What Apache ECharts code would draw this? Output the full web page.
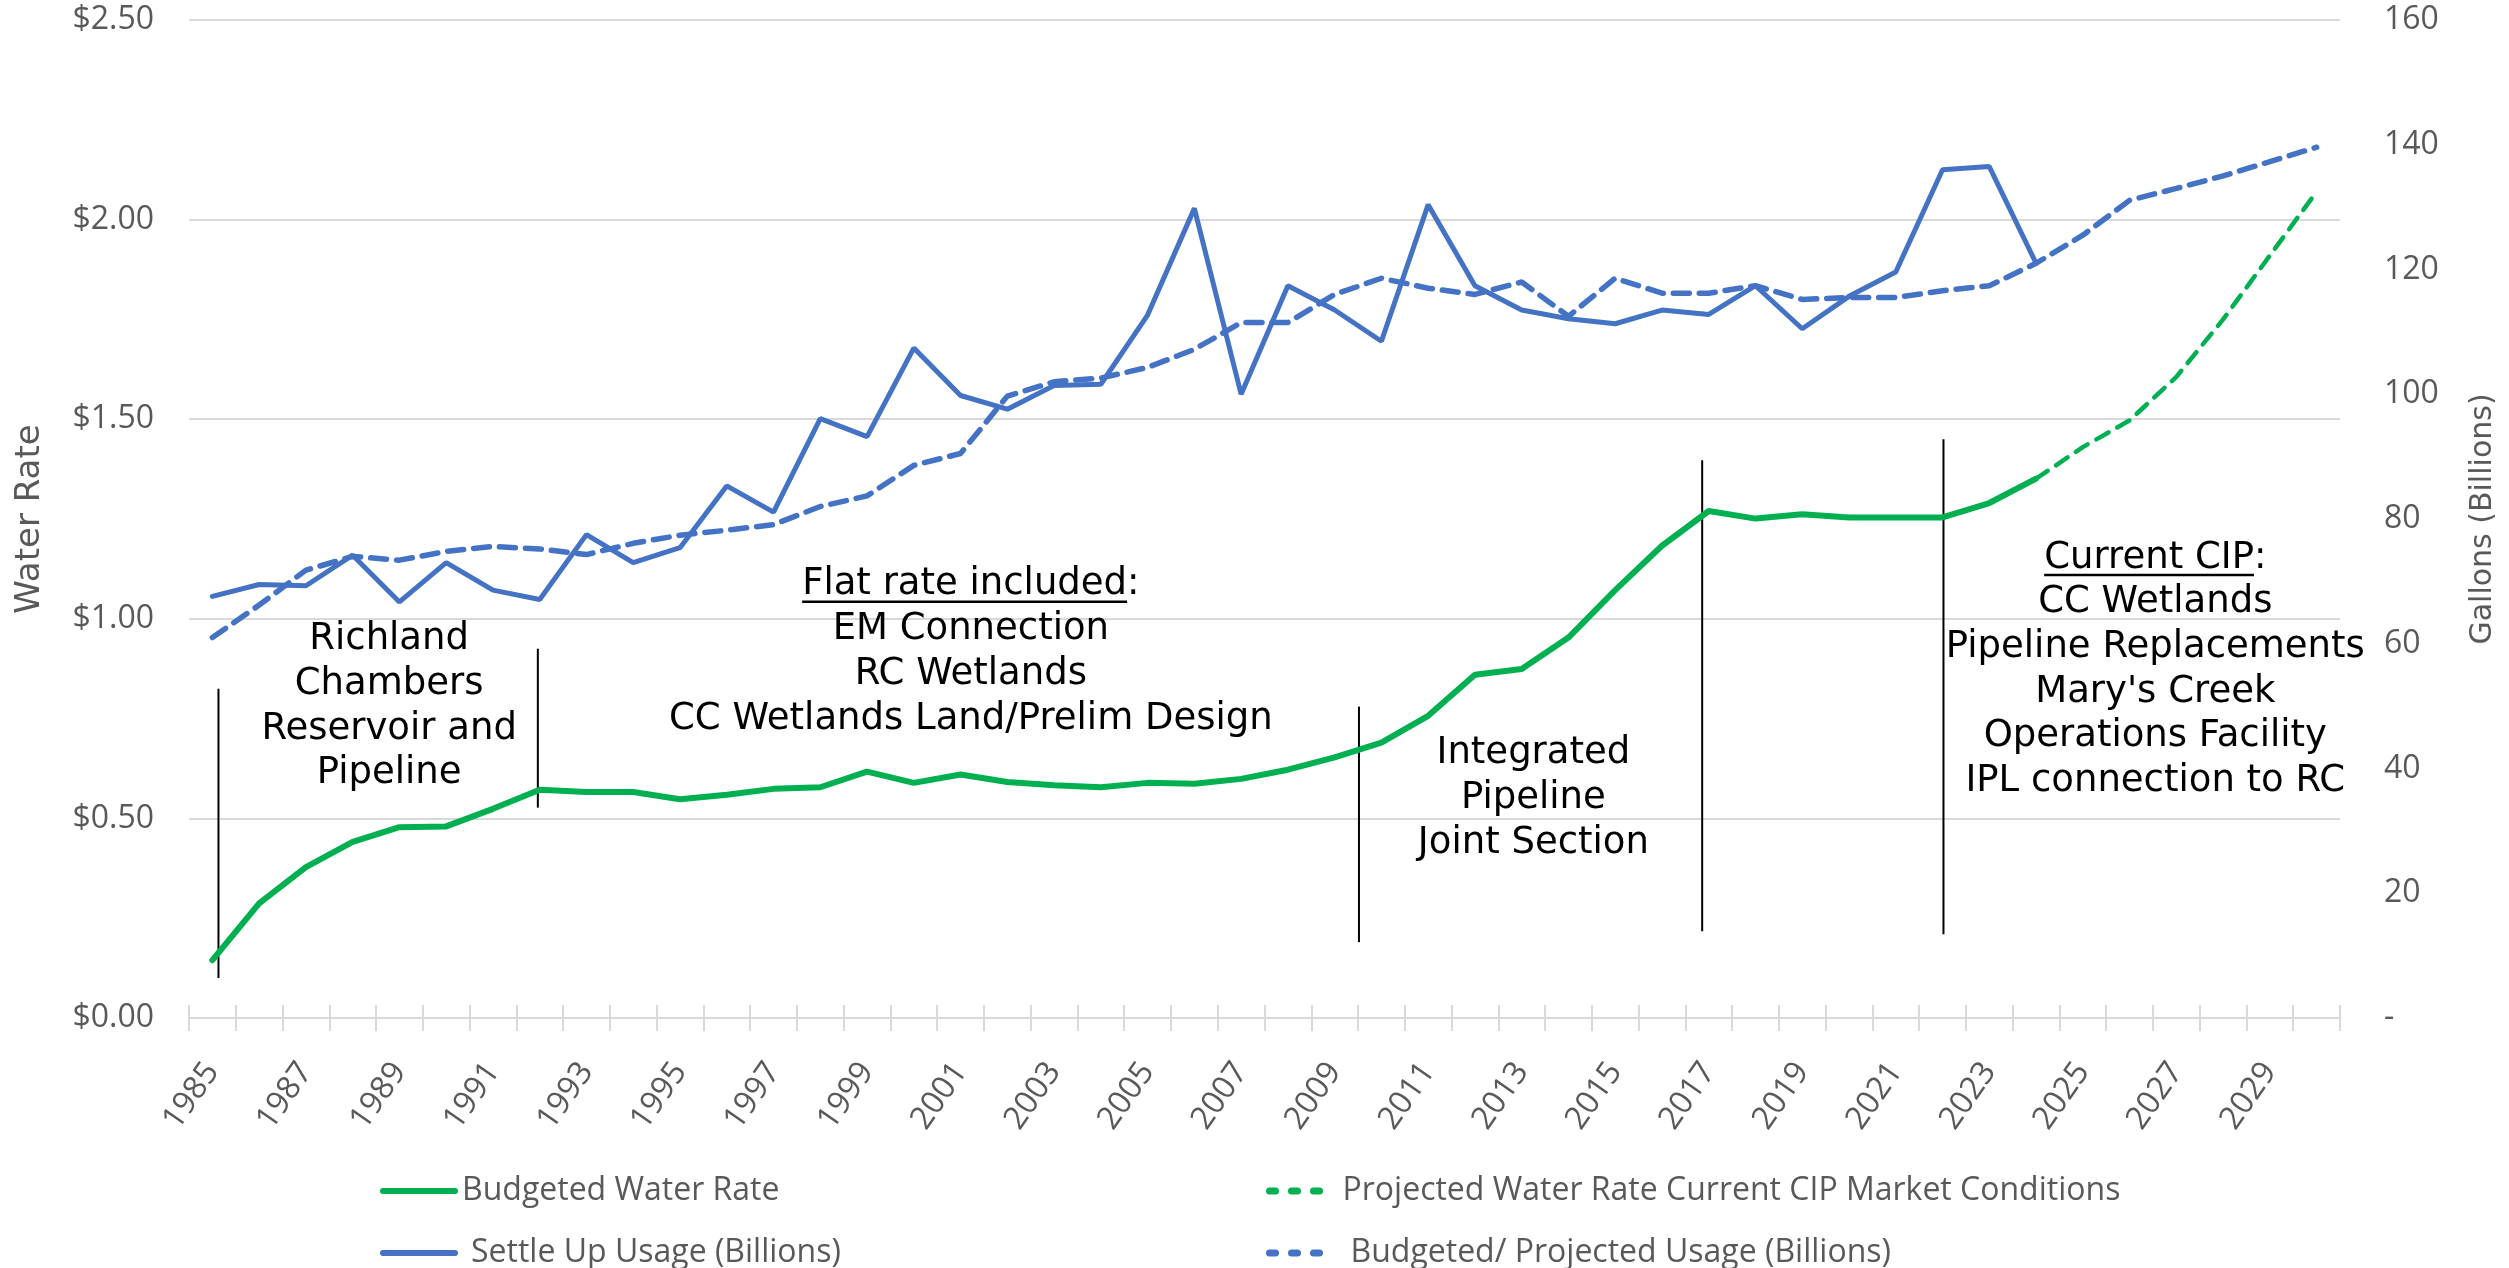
<!DOCTYPE html>
<html>
<head>
<meta charset="utf-8">
<script src="https://cdn.jsdelivr.net/npm/echarts@6/dist/echarts.min.js"></script>
<style>
    html, body { margin: 0; padding: 0; background: #fff; }
    #main { width: 2509px; height: 1268px; }
</style>
</head>
<body>
<div id="main"></div>
<script>
// categories
var years = ['1985','1986','1987','1988','1989','1990','1991','1992','1993','1994',
             '1995','1996','1997','1998','1999','2000','2001','2002','2003','2004',
             '2005','2006','2007','2008','2009','2010','2011','2012','2013','2014',
             '2015','2016','2017','2018','2019','2020','2021','2022','2023','2024',
             '2025','2026','2027','2028','2029','2030'];

// $ per 1000 gal (left axis)
var budgetedRate = [0.145, 0.287, 0.378, 0.441, 0.478, 0.48, 0.524, 0.572, 0.566, 0.566,
                    0.548, 0.559, 0.574, 0.578, 0.617, 0.589, 0.61, 0.591, 0.583, 0.578,
                    0.589, 0.587, 0.599, 0.622, 0.653, 0.69, 0.757, 0.86, 0.874, 0.953,
                    1.072, 1.183, 1.27, 1.251, 1.262, 1.254, 1.254, 1.254, 1.29, 1.351,
                    null, null, null, null, null, null];
var projectedRate = [null, null, null, null, null, null, null, null, null, null,
                     null, null, null, null, null, null, null, null, null, null,
                     null, null, null, null, null, null, null, null, null, null,
                     null, null, null, null, null, null, null, null, null, 1.351,
                     1.43, 1.497, 1.606, 1.75, 1.91, 2.07];

// billions of gallons (right axis)
var settleUpUsage = [67.6, 69.5, 69.3, 74.2, 66.7, 73.0, 68.6, 67.1, 77.5, 73.0,
                     75.4, 85.3, 81.1, 96.1, 93.2, 107.4, 99.8, 97.6, 101.4, 101.6,
                     112.7, 129.8, 100.0, 117.4, 113.5, 108.5, 130.4, 117.4, 113.5, 112.1,
                     111.3, 113.5, 112.8, 117.4, 110.5, 115.7, 119.6, 136.0, 136.5, 121.0,
                     null, null, null, null, null, null];
var projectedUsage = [61.0, 66.2, 71.8, 74.0, 73.4, 74.8, 75.6, 75.2, 74.3, 76.1,
                      77.4, 78.2, 79.1, 82.0, 83.7, 88.6, 90.5, 99.7, 102.0, 102.6,
                      104.3, 107.2, 111.5, 111.5, 116.0, 118.6, 117.0, 116.0, 118.0, 112.5,
                      118.6, 116.2, 116.2, 117.4, 115.2, 115.5, 115.5, 116.6, 117.4, 121.0,
                      125.5, 131.1, 133.0, 135.0, 137.3, 139.6];

// era separators: [category index, rate from, rate to]
var dividers = [[0.13, 0.10, 0.825], [6.96, 0.527, 0.925], [24.52, 0.19, 0.78],
                [31.86, 0.217, 1.397], [37.02, 0.21, 1.45]];

// notes: position in (category index, rate) of the first line
var notes = [
    {x: 3.78, y: 0.9475, lines: ['Richland', 'Chambers', 'Reservoir and', 'Pipeline']},
    {x: 16.22, y: 1.085, lines: ['Flat rate included:', 'EM Connection', 'RC Wetlands', 'CC Wetlands Land/Prelim Design'], underline: 'Flat rate included'},
    {x: 28.25, y: 0.6625, lines: ['Integrated', 'Pipeline', 'Joint Section']},
    {x: 41.55, y: 1.1525, lines: ['Current CIP:', 'CC Wetlands', 'Pipeline Replacements', "Mary's Creek", 'Operations Facility', 'IPL connection to RC'], underline: 'Current CIP'}
];

var GREEN = '#00B050';
var BLUE = '#4472C4';
var GRID = '#D9D9D9';
var LABEL = '#595959';
var noteFont = '37px "DejaVu Sans"';

var chart = echarts.init(document.getElementById('main'));

function legendFor(name, left, top, dashed, textPad) {
    return {
        data: [name],
        left: left, top: top,
        orient: 'horizontal', padding: 0,
        itemWidth: dashed ? 62 : 72, itemHeight: 16,
        itemStyle: {opacity: 0},
        lineStyle: dashed ? {width: 7, type: [6, 16], cap: 'round'} : {width: 6, type: 'solid', cap: 'round'},
        textStyle: {fontFamily: 'Open Sans', fontSize: 32, color: LABEL, padding: [0, 0, 0, textPad]}
    };
}

var series = [
    {
        name: 'Budgeted Water Rate', type: 'line', data: budgetedRate,
        yAxisIndex: 0, symbol: 'none',
        lineStyle: {color: GREEN, width: 6, cap: 'round'}, itemStyle: {color: GREEN}
    },
    {
        name: 'Projected Water Rate Current CIP Market Conditions', type: 'line', data: projectedRate,
        yAxisIndex: 0, symbol: 'none',
        lineStyle: {color: GREEN, width: 4.5, type: [14, 10], cap: 'round'}, itemStyle: {color: GREEN}
    },
    {
        name: 'Settle Up Usage (Billions)', type: 'line', data: settleUpUsage,
        yAxisIndex: 1, symbol: 'none',
        lineStyle: {color: BLUE, width: 5, cap: 'round'}, itemStyle: {color: BLUE}
    },
    {
        name: 'Budgeted/ Projected Usage (Billions)', type: 'line', data: projectedUsage,
        yAxisIndex: 1, symbol: 'none',
        lineStyle: {color: BLUE, width: 5.5, type: [16, 10], cap: 'round'}, itemStyle: {color: BLUE}
    }
];

dividers.forEach(function (d) {
    series.push({
        type: 'line', xAxisIndex: 1, yAxisIndex: 0, symbol: 'none', silent: true,
        data: [[d[0], d[1]], [d[0], d[2]]],
        lineStyle: {color: '#000', width: 2}, z: 1
    });
});

var option = {
    animation: false,
    backgroundColor: '#fff',
    grid: {left: 189, right: 169, top: 20, bottom: 250, containLabel: false},
    legend: [
        legendFor('Budgeted Water Rate', 380, 1175, false, 2),
        legendFor('Projected Water Rate Current CIP Market Conditions', 1266, 1175, true, 6),
        legendFor('Settle Up Usage (Billions)', 380, 1237, false, 11),
        legendFor('Budgeted/ Projected Usage (Billions)', 1266, 1237, true, 14)
    ],
    xAxis: [
        {
            type: 'category', data: years, boundaryGap: true,
            axisLine: {lineStyle: {color: GRID, width: 2}},
            axisTick: {show: true, interval: 0, length: 13, lineStyle: {color: GRID, width: 2}},
            axisLabel: {interval: 1, rotate: 55, margin: 48, fontFamily: 'Open Sans', fontSize: 32, color: LABEL},
            splitLine: {show: false}
        },
        {
            type: 'value', min: -0.5, max: 45.5, show: false
        },
        {
            type: 'category', data: years, boundaryGap: true, position: 'bottom',
            axisLine: {show: false},
            axisTick: {show: true, inside: true, interval: 0, length: 13, lineStyle: {color: GRID, width: 2}},
            axisLabel: {show: false},
            splitLine: {show: false}
        }
    ],
    yAxis: [
        {
            type: 'value', min: 0, max: 2.5, interval: 0.5, position: 'left',
            name: 'Water Rate', nameLocation: 'middle', nameRotate: 90, nameGap: 142,
            nameTextStyle: {fontFamily: 'DejaVu Sans', fontSize: 34, color: LABEL},
            axisLine: {show: false}, axisTick: {show: false},
            axisLabel: {margin: 35, fontFamily: 'Open Sans', fontSize: 32, color: LABEL,
                formatter: function (v) { return '$' + v.toFixed(2); }},
            splitLine: {lineStyle: {color: GRID, width: 2}}
        },
        {
            type: 'value', min: 0, max: 160, interval: 20, position: 'right',
            name: 'Gallons (Billions)', nameLocation: 'middle', nameRotate: 90, nameGap: 128,
            nameTextStyle: {fontFamily: 'DejaVu Sans', fontSize: 30, color: LABEL},
            axisLine: {show: false}, axisTick: {show: false},
            axisLabel: {margin: 44, fontFamily: 'Open Sans', fontSize: 32, color: LABEL,
                formatter: function (v) { return v === 0 ? '-' : String(v); }},
            splitLine: {show: false}
        }
    ],
    series: series
};

chart.setOption(option);

// annotation text, placed through the axes
var ctx = document.createElement('canvas').getContext('2d');
ctx.font = noteFont;
var lineGap = 44.7;
var graphics = [];
notes.forEach(function (n) {
    var p = chart.convertToPixel({xAxisIndex: 1, yAxisIndex: 0}, [n.x, n.y]);
    n.lines.forEach(function (t, i) {
        var cy = p[1] + i * lineGap;
        graphics.push({
            type: 'text', x: p[0], y: cy, silent: true,
            style: {text: t, font: noteFont, fill: '#000', textAlign: 'center', textVerticalAlign: 'middle'}
        });
        if (i === 0 && n.underline) {
            var full = ctx.measureText(t).width;
            var part = ctx.measureText(n.underline).width;
            var x0 = p[0] - full / 2;
            graphics.push({
                type: 'line', silent: true,
                shape: {x1: x0, y1: cy + 17, x2: x0 + part, y2: cy + 17},
                style: {stroke: '#000', lineWidth: 2.5}
            });
        }
    });
});
chart.setOption({graphic: graphics});
</script>
</body>
</html>
